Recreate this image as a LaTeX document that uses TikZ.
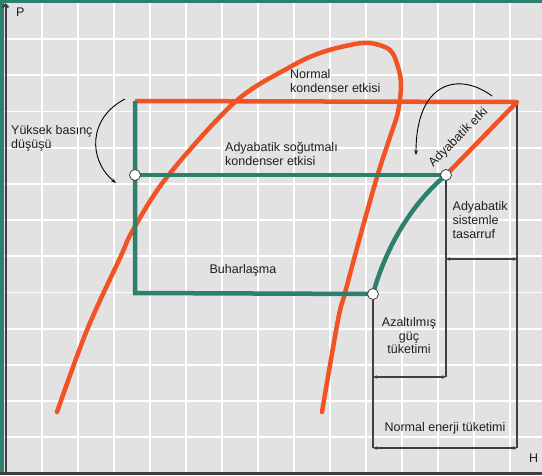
\documentclass[tikz,border=0pt]{standalone}
\usepackage{fontspec}
\setmainfont{Liberation Sans}
\usetikzlibrary{arrows.meta}
\definecolor{bggray}{RGB}{226,226,226}
\definecolor{redc}{RGB}{241,83,36}
\definecolor{tealc}{RGB}{46,128,110}
\definecolor{dimc}{RGB}{64,64,64}
\begin{document}
\begin{tikzpicture}[x=1pt,y=-1pt,
  gridline/.style={white,line width=1.8pt},
  redline/.style={redc,line width=4.5pt,line cap=round,line join=round},
  greenline/.style={tealc,line width=4.5pt,line join=miter},
  dimline/.style={dimc,line width=1.3pt},
  dimarrow/.style={dimc,line width=1.3pt,{Stealth[length=4pt,width=3.5pt]}-{Stealth[length=4pt,width=3.5pt]}},
  curvarrow/.style={black,line width=0.9pt,-{Stealth[length=5pt,width=3.5pt]}},
  dot/.style={circle,fill=white,draw=dimc,line width=0.8pt,minimum size=11pt,inner sep=0pt},
  lbl/.style={font=\fontsize{12.5}{13.8}\selectfont,inner sep=0pt,text=black!88}
]
\useasboundingbox (0,0) rectangle (542,475);
\fill[bggray] (0,0) rectangle (542,475);
% grid
\foreach \x in {42,78,...,510} \draw[gridline] (\x,0) -- (\x,475);
\foreach \k in {0,...,11} \draw[gridline] (0,39+36.2*\k) -- (542,39+36.2*\k);
% frame
\fill[tealc] (0,0) rectangle (542,3);
\fill[tealc] (0,0) rectangle (4,475);
\fill[dimc] (0,472) rectangle (542,475);
\coordinate (Yb) at (5.5,475);
\coordinate (Yt) at (5.5,3);
\draw[dimc,line width=2pt,-{Straight Barb[length=3pt,width=6pt]}] (Yb) -- (Yt);
\node[lbl,anchor=north west] (P) at (16,8) {P};
\node[lbl,anchor=north west] (H) at (529,454) {H};

% key points
\coordinate (A) at (135,101);
\coordinate (B) at (135,175);
\coordinate (C) at (446,175);
\coordinate (D) at (517,102);
\coordinate (E) at (135,293);
\coordinate (F) at (373,294);
\coordinate (C2) at (446,377);
\coordinate (F2) at (373,377);
\coordinate (F3) at (373,448);
\coordinate (D3) at (517,448);
\coordinate (C4) at (446,259);
\coordinate (D4) at (517,259);

% dimension lines
\draw[dimline] (C) -- (C2);
\draw[dimline] (F) -- (F3);
\draw[dimline] (D) -- (D3);
\draw[dimarrow] (F2) -- (C2);
\draw[dimarrow] (F3) -- (D3);
\draw[dimarrow] (C4) -- (D4);

% saturation dome
\draw[redline] plot[smooth,tension=0.55] coordinates {(57,412) (87,330) (120,258) (133,230) (167,177) (235,102) (290,67) (320,53) (350,45) (370,43) (390,50) (398,67) (401,85) (398,112) (389,140) (377,177) (360,237) (345,293) (338,320) (322,412)};

% red cycle
\draw[redline,line cap=butt] (A) -- (D) -- (C);

% green cycle
\draw[greenline] (A) -- (E) -- (F);
\draw[greenline] (B) -- (C);
\draw[greenline] (F) .. controls (385,250) and (410,205) .. (C);

% circles
\node[dot] (Bdot) at (B) {};
\node[dot] (Cdot) at (C) {};
\node[dot] (Fdot) at (F) {};

% curved arrows
\coordinate (L1) at (125,99);
\coordinate (L2) at (116,183);
\draw[curvarrow] (L1) .. controls (88,118) and (88,160) .. (L2);
\coordinate (R1) at (492,96);
\coordinate (R2) at (416,155);
\draw[curvarrow] (R1) .. controls (460,72) and (416,80) .. (R2);

% labels
\node[lbl,anchor=north west,align=left] (t1) at (11,125.5) {Yüksek basınç\\düşüşü};
\node[lbl,anchor=north west,align=left] (t2) at (290,69) {Normal\\kondenser etkisi};
\node[lbl,anchor=north west,align=left] (t3) at (225,142.5) {Adyabatik soğutmalı\\kondenser etkisi};
\node[lbl,anchor=north] (t4) at (243,264.5) {Buharlaşma};
\node[lbl,anchor=north west,align=left] (t5) at (452.5,201.5) {Adyabatik\\sistemle\\tasarruf};
\node[lbl,anchor=north,align=center] (t6) at (409,317) {Azaltılmış\\güç\\tüketimi};
\node[lbl,anchor=north] (t7) at (445,422) {Normal enerji tüketimi};
\node[lbl,rotate=45] (t8) at (458.5,137.5) {Adyabatik etki};
\end{tikzpicture}
\end{document}
